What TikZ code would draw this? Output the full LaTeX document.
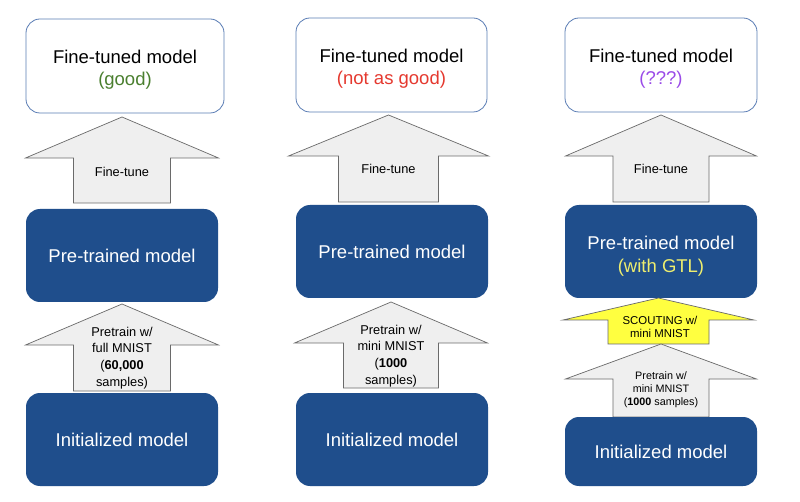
\documentclass[tikz,border=0pt]{standalone}
\usepackage{fontspec}
\setmainfont{Liberation Sans}
\definecolor{boxblue}{HTML}{1F4E8C}
\definecolor{boxedge}{HTML}{5A7DB5}
\definecolor{goodgreen}{HTML}{4A7F2F}
\definecolor{badred}{HTML}{E5392F}
\definecolor{qpurple}{HTML}{9A4BE8}
\definecolor{gtlyellow}{HTML}{EEEE6E}
\definecolor{arrowfill}{HTML}{EFEFEF}
\definecolor{arrowedge}{HTML}{6A6A6A}
\definecolor{scoutfill}{HTML}{FFFF40}
\newcommand{\blkarrow}[8]{%
  % #1 style, #2 cx, #3 tip y, #4 base y, #5 bottom y, #6 half head, #7 half shaft, #8 name
  \draw[#1] (#2,#3) -- (#2+#6,#4) -- (#2+#7,#4) -- (#2+#7,#5) -- (#2-#7,#5) -- (#2-#7,#4) -- (#2-#6,#4) -- cycle;
  \coordinate (#8) at (#2,#3);
}
\newcommand{\lowerstrut}[1]{\rule{0pt}{#1}}
\begin{document}
\begin{tikzpicture}[x=1pt,y=-1pt,
  ftbox/.style={draw=boxedge, line width=0.8pt, fill=white, rounded corners=14pt, align=center, font=\fontsize{18.5}{22}\selectfont, inner sep=0pt},
  bluebox/.style={fill=boxblue, rounded corners=14pt, align=center, text=white, font=\fontsize{18.5}{23}\selectfont, inner sep=0pt},
  grayarrow/.style={draw=arrowedge, line width=0.7pt, fill=arrowfill, line join=miter},
  yelarrow/.style={draw=arrowedge, line width=0.7pt, fill=scoutfill, line join=miter},
  biglabel/.style={align=center, font=\fontsize{12.8}{16.7}\selectfont, inner sep=0pt},
  smalllabel/.style={align=center, font=\fontsize{10.8}{13}\selectfont, inner sep=0pt},
  scoutlabel/.style={align=center, font=\fontsize{11.4}{12.2}\selectfont, inner sep=0pt}
]
\useasboundingbox (0,0) rectangle (800,502);
\fill[white] (0,0) rectangle (800,502);

% ---------- Column 1 ----------
\node[ftbox, minimum width=198pt, minimum height=94pt] (ft1) at (125,66) {\lowerstrut{21.5pt}Fine-tuned model\\\textcolor{goodgreen}{(good)}};
\blkarrow{grayarrow}{122}{117}{158}{203}{96.5}{48.5}{a1}
\node[biglabel] (l1) at (122,172) {Fine-tune};
\node[bluebox, minimum width=192pt, minimum height=93pt] (pre1) at (122,255.5) {Pre-trained model};
\blkarrow{grayarrow}{122}{304}{345}{391}{96.5}{48.5}{b1}
\node[biglabel] (m1) at (122,358) {Pretrain w/\\full MNIST\\(\textbf{60,000}\\samples)};
\node[bluebox, minimum width=192pt, minimum height=93pt] (init1) at (122,439.5) {Initialized model};

% ---------- Column 2 ----------
\node[ftbox, minimum width=191pt, minimum height=94pt] (ft2) at (391.5,65) {\lowerstrut{21.5pt}Fine-tuned model\\\textcolor{badred}{(not as good)}};
\blkarrow{grayarrow}{388.5}{115}{156}{202}{100}{50}{a2}
\node[biglabel] (l2) at (388.5,169) {Fine-tune};
\node[bluebox, minimum width=192pt, minimum height=93pt] (pre2) at (392,251.5) {Pre-trained model};
\blkarrow{grayarrow}{391}{302}{343}{388}{96.5}{47.5}{b2}
\node[biglabel] (m2) at (391,356) {Pretrain w/\\mini MNIST\\(\textbf{1000}\\samples)};
\node[bluebox, minimum width=192pt, minimum height=93pt] (init2) at (392,439.5) {Initialized model};

% ---------- Column 3 ----------
\node[ftbox, minimum width=192pt, minimum height=94pt] (ft3) at (661,65) {\lowerstrut{21.5pt}Fine-tuned model\\\textcolor{qpurple}{(???)}};
\blkarrow{grayarrow}{661}{115}{156}{202}{95.5}{48}{a3}
\node[biglabel] (l3) at (661,169) {Fine-tune};
\node[bluebox, minimum width=192pt, minimum height=93pt] (pre3) at (661,251.5) {\lowerstrut{23.3pt}Pre-trained model\\\textcolor{gtlyellow}{(with GTL)}};
\blkarrow{yelarrow}{658.5}{298}{320}{344}{95.5}{50.5}{c3}
\node[scoutlabel] (s3) at (660,327) {SCOUTING w/\\mini MNIST};
\blkarrow{grayarrow}{661}{344}{379}{417}{95.5}{48}{b3}
\node[smalllabel] (m3) at (661,390) {Pretrain w/\\mini MNIST\\(\textbf{1000} samples)};
\node[bluebox, minimum width=192pt, minimum height=69pt] (init3) at (661,451.5) {Initialized model};
\end{tikzpicture}
\end{document}
